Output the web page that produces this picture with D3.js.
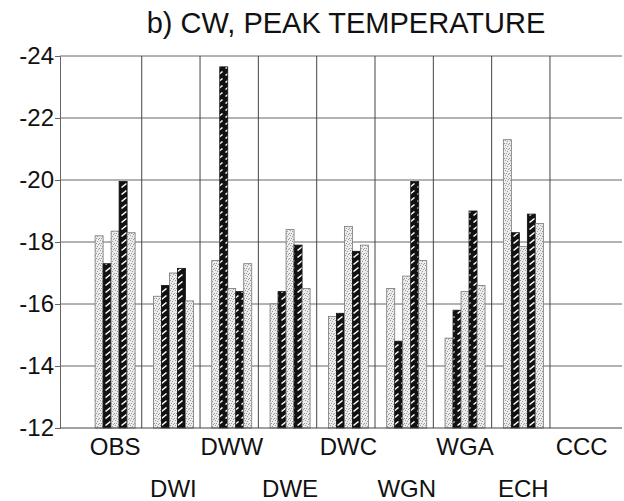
<!DOCTYPE html>
<html><head><meta charset="utf-8">
<script src="https://cdn.jsdelivr.net/npm/d3@7/dist/d3.min.js"></script>
<style>body{margin:0;background:#fff}svg{display:block}text{font-family:"Liberation Sans",Arial,sans-serif;fill:#111}</style>
</head><body>
<svg id="c" width="624" height="501"></svg>
<script>
const title = "b) CW, PEAK TEMPERATURE";
const categories = ["OBS","DWI","DWW","DWE","DWC","WGN","WGA","ECH","CCC"];
// five bars per group: light, dark, light, dark, light
const series1 = [-18.2, -16.25, -17.4, -16.0, -15.6, -16.5, -14.9, -21.3, null];
const series2 = [-17.3, -16.6, -23.65, -16.4, -15.7, -14.8, -15.8, -18.3, null];
const series3 = [-18.35, -17.0, -16.5, -18.4, -18.5, -16.9, -16.4, -17.85, null];
const series4 = [-19.95, -17.15, -16.4, -17.9, -17.7, -19.95, -19.0, -18.9, null];
const series5 = [-18.3, -16.1, -17.3, -16.5, -17.9, -17.4, -16.6, -18.6, null];
const yTicks = [-12, -14, -16, -18, -20, -22, -24];

const seriesList = [series1, series2, series3, series4, series5];
const seriesKind = ["light","dark","light","dark","light"];

const svg = d3.select("#c");
const defs = svg.append("defs");
// dark hatched pattern
const ph = defs.append("pattern").attr("id","hatch").attr("patternUnits","userSpaceOnUse")
  .attr("width",8).attr("height",7);
ph.append("rect").attr("width",8).attr("height",7).attr("fill","#111");
ph.append("line").attr("x1",1.5).attr("y1",5.5).attr("x2",6.5).attr("y2",1.5)
  .attr("stroke","#fff").attr("stroke-width",1.6);
// light stippled pattern
const ps = defs.append("pattern").attr("id","stip").attr("patternUnits","userSpaceOnUse")
  .attr("width",5).attr("height",5);
ps.append("rect").attr("width",5).attr("height",5).attr("fill","#ececec");
[[0,0],[2,1],[4,3],[1,3],[3,4]].forEach(([a,b])=>{
  ps.append("rect").attr("x",a).attr("y",b).attr("width",1).attr("height",1).attr("fill","#9a9a9a");
});

const plotL = 60, plotR = 622, plotT = 56, plotB = 428;
const y = d3.scaleLinear().domain([-12,-24]).range([plotB, plotT]);
const x = d3.scaleBand().domain(categories).range([83.4, 608.3]);
const sub = d3.scaleBand().domain(d3.range(5)).range([11.7, 51.7]);

// horizontal gridlines
svg.append("g").selectAll("line").data(yTicks.filter(t=>t!==-12)).join("line")
  .attr("x1",plotL).attr("x2",plotR).attr("y1",d=>y(d)).attr("y2",d=>y(d))
  .attr("stroke","#666").attr("stroke-width",1);
// vertical group separators
svg.append("g").selectAll("line").data(categories.slice(1)).join("line")
  .attr("x1",d=>x(d)).attr("x2",d=>x(d)).attr("y1",plotT).attr("y2",plotB)
  .attr("stroke","#444").attr("stroke-width",1);

// bars
const barData = [];
categories.forEach((c,i)=>{
  seriesList.forEach((s,j)=>{
    if (s[i] != null) barData.push({c, j, v:s[i], kind:seriesKind[j]});
  });
});
svg.append("g").selectAll("rect").data(barData).join("rect")
  .attr("x",d=>x(d.c)+sub(d.j)).attr("width",sub.bandwidth())
  .attr("y",d=>y(d.v)).attr("height",d=>plotB - y(d.v))
  .attr("fill",d=>d.kind==="dark"?"url(#hatch)":"url(#stip)")
  .attr("stroke",d=>d.kind==="dark"?"#111":"#777").attr("stroke-width",0.8);

// y axis
const yAxis = d3.axisLeft(y).tickValues(yTicks).tickSize(5).tickFormat(d=>d);
const ga = svg.append("g").attr("transform",`translate(${plotL},0)`).call(yAxis);
ga.select(".domain").attr("stroke","#666");
ga.selectAll(".tick line").attr("stroke","#666");
ga.selectAll(".tick text").attr("font-size",24).attr("x",-6).attr("fill","#111")
  .attr("font-family","Liberation Sans, Arial, sans-serif");
// baseline
svg.append("line").attr("x1",plotL).attr("x2",plotR).attr("y1",plotB).attr("y2",plotB)
  .attr("stroke","#444").attr("stroke-width",1.2);

// category labels (alternating rows)
svg.append("g").selectAll("text").data(categories).join("text")
  .attr("x",d=>x(d)+sub(2)+sub.bandwidth()/2)
  .attr("y",(d,i)=> i%2===0 ? 455 : 497)
  .attr("text-anchor","middle").attr("font-size",24).text(d=>d);

// title
svg.append("text").attr("x",346).attr("y",33).attr("text-anchor","middle")
  .attr("font-size",29).text(title);
</script>
</body></html>
